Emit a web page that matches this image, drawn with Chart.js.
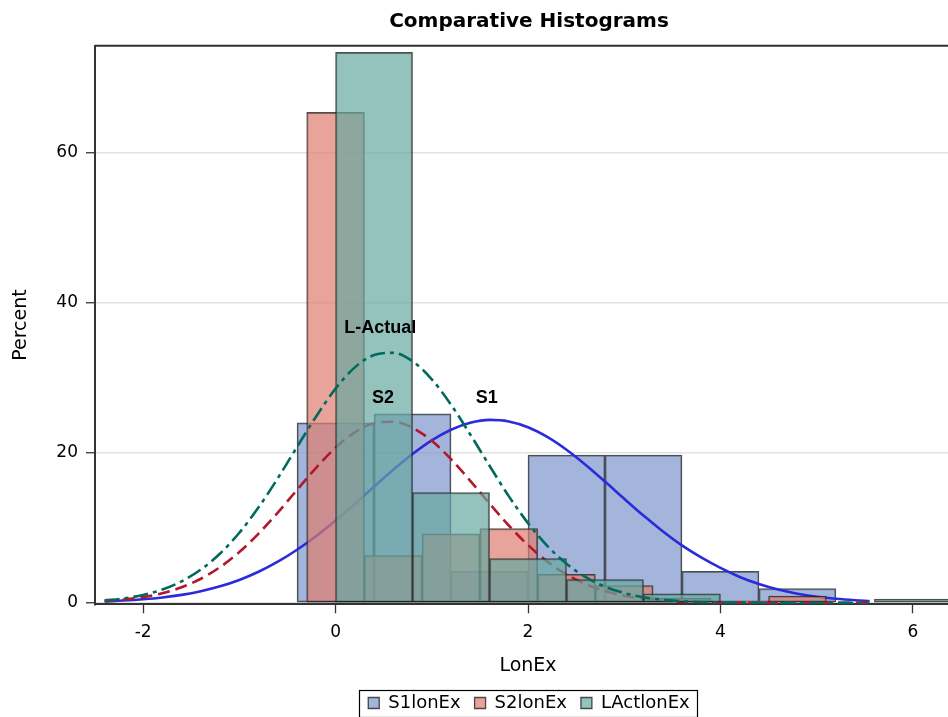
<!DOCTYPE html>
<html>
<head>
<meta charset="utf-8">
<title>Comparative Histograms</title>
<script src="https://cdn.jsdelivr.net/npm/chart.js@4/dist/chart.umd.min.js"></script>
<style>
  html, body { margin: 0; padding: 0; overflow: hidden; background: #ffffff; }
  #wrap { position: relative; width: 1058px; height: 722px; }
</style>
</head>
<body>
<div id="wrap"><canvas id="chart"></canvas></div>
<script>
// ---- Histogram bins: bin centres, bin width and percent of observations ----
const s1Centers = [0, 0.8, 1.6, 2.4, 3.2, 4.0, 4.8];
const s1Percent = [24.0, 25.2, 4.2, 19.7, 19.7, 4.2, 1.9];
const s1BinWidth = 0.8;

const s2Centers = [0, 0.6, 1.2, 1.8, 2.4, 3.0, 3.6, 4.2, 4.8];
const s2Percent = [65.4, 6.3, 9.2, 9.9, 3.8, 2.3, 0.6, 0.2, 0.9];
const s2BinWidth = 0.6;

const laCenters = [0.4, 1.2, 2.0, 2.8, 3.6, 6.0];
const laPercent = [73.4, 14.7, 5.9, 3.1, 1.2, 0.5];
const laBinWidth = 0.8;

// ---- Fitted normal density curves (percent scale) ----
const fitX = [-2.4, -2.2, -2.0, -1.8, -1.6, -1.4, -1.2, -1.0, -0.8, -0.6,
              -0.4, -0.2, 0.0, 0.2, 0.4, 0.6, 0.8, 1.0, 1.2, 1.4,
              1.6, 1.8, 2.0, 2.2, 2.4, 2.6, 2.8, 3.0, 3.2, 3.4,
              3.6, 3.8, 4.0, 4.2, 4.4, 4.6, 4.8, 5.0, 5.2, 5.4, 5.55];
const s1Fit = [0.19, 0.30, 0.47, 0.71, 1.06, 1.55, 2.20, 3.05, 4.14, 5.48,
               7.08, 8.92, 10.98, 13.19, 15.49, 17.74, 19.84, 21.66, 23.08, 24.01,
               24.39, 24.19, 23.42, 22.13, 20.42, 18.39, 16.17, 13.88, 11.63, 9.55,
               7.65, 6.05, 4.65, 3.45, 2.50, 1.76, 1.21, 0.81, 0.53, 0.34, 0.24];
const s2Fit = [0.23, 0.43, 0.76, 1.28, 2.07, 3.21, 4.76, 6.77, 9.23, 12.04,
               15.06, 18.04, 20.69, 22.74, 23.95, 24.15, 23.34, 21.60, 19.15, 16.27,
               13.24, 10.31, 7.70, 5.51, 3.78, 2.48, 1.56, 0.94, 0.54, 0.30,
               0.16, 0.08, 0.04, 0.02, 0.01, 0.01, 0, 0, 0, 0, 0];
const laFit = [0.32, 0.59, 1.05, 1.77, 2.86, 4.43, 6.57, 9.34, 12.74, 16.62,
               20.79, 24.89, 28.56, 31.40, 33.05, 33.34, 32.21, 29.81, 26.43, 22.45,
               18.28, 14.23, 10.63, 7.60, 5.21, 3.42, 2.15, 1.30, 0.75, 0.41,
               0.22, 0.11, 0.05, 0.03, 0.01, 0.01, 0, 0, 0, 0, 0];

// ---- Names and tick values ----
const seriesNames = ['S1lonEx', 'S2lonEx', 'LActlonEx'];
const curveNames = ['S1', 'S2', 'L-Actual'];
const xTickValues = [-2, 0, 2, 4, 6];
const yTickValues = [0, 20, 40, 60];

// Where each curve name sits, in data units (x, percent)
const curveLabelAt = [[1.572, 26.6], [0.494, 26.6], [0.465, 36.0]];

// ---- Styling ----
const FONT = "'DejaVu Sans', sans-serif";
const LABEL_FONT = "bold 18px 'Liberation Sans', Arial, sans-serif";
const X_MIN = -2.5, X_MAX = 6.5;
const OUTLINE = 'rgba(35,35,35,0.8)';

const toPoints = (xs, ys) => xs.map((x, i) => ({ x: x, y: ys[i] }));
const useTicks = values => scale => { scale.ticks = values.map(v => ({ value: v })); };

const barSet = (label, xs, ys, binWidth, fill, order) => ({
  type: 'bar', label, data: toPoints(xs, ys), xAxisID: 'x', yAxisID: 'y',
  binWidth: binWidth, grouped: false,
  backgroundColor: fill, borderColor: OUTLINE, borderWidth: 1.3, borderSkipped: false,
  categoryPercentage: 1, barPercentage: 1, order
});
const curveSet = (label, ys, color, dash, order) => ({
  type: 'line', label, data: toPoints(fitX, ys), xAxisID: 'x', yAxisID: 'y',
  borderColor: color, borderWidth: 2.6, borderDash: dash, borderCapStyle: 'butt',
  pointRadius: 0, fill: false, cubicInterpolationMode: 'monotone', order
});

// Bars span their whole bin: width taken from the x scale once it is laid out
const binWidthPlugin = {
  id: 'binWidths',
  afterLayout(chart) {
    const x = chart.scales.x;
    const unit = x.getPixelForValue(1) - x.getPixelForValue(0);
    chart.data.datasets.forEach(ds => {
      if (ds.binWidth) ds.barThickness = ds.binWidth * unit;
    });
  }
};

// Plot frame (top and right edges) and the box around the legend
const framePlugin = {
  id: 'frame',
  afterDraw(chart) {
    const { ctx, chartArea: a, legend } = chart;
    ctx.save();
    ctx.strokeStyle = '#333';
    ctx.lineWidth = 2;
    ctx.beginPath();
    ctx.moveTo(a.left, a.top);
    ctx.lineTo(a.right, a.top);
    ctx.lineTo(a.right, a.bottom);
    ctx.stroke();
    if (legend && legend.legendHitBoxes && legend.legendHitBoxes.length) {
      const hb = legend.legendHitBoxes;
      const l = Math.min(...hb.map(h => h.left)) - 9;
      const r = Math.max(...hb.map(h => h.left + h.width)) + 8;
      const t = Math.min(...hb.map(h => h.top)) - 4.5;
      const b = Math.max(...hb.map(h => h.top + h.height)) + 4.5;
      ctx.strokeStyle = '#000';
      ctx.lineWidth = 1.2;
      ctx.strokeRect(Math.round(l) + 0.5, Math.round(t) + 0.5, Math.round(r - l), Math.round(b - t));
    }
    ctx.restore();
  }
};

// Names written beside the fitted curves
const curveLabelPlugin = {
  id: 'curveLabels',
  afterDatasetsDraw(chart) {
    const { ctx, scales } = chart;
    ctx.save();
    ctx.font = LABEL_FONT;
    ctx.fillStyle = '#000';
    ctx.textAlign = 'center';
    ctx.textBaseline = 'alphabetic';
    curveNames.forEach((name, i) => {
      const [vx, vy] = curveLabelAt[i];
      ctx.fillText(name, scales.x.getPixelForValue(vx), scales.y.getPixelForValue(vy));
    });
    ctx.restore();
  }
};

const chart = new Chart(document.getElementById('chart'), {
  data: {
    datasets: [
      barSet(seriesNames[0], s1Centers, s1Percent, s1BinWidth, 'rgba(124,149,202,0.7)', 5),
      barSet(seriesNames[1], s2Centers, s2Percent, s2BinWidth, 'rgba(222,126,111,0.7)', 3),
      barSet(seriesNames[2], laCenters, laPercent, laBinWidth, 'rgba(102,168,161,0.7)', 1),
      curveSet(curveNames[0], s1Fit, '#2b2bdc', [], 4),
      curveSet(curveNames[1], s2Fit, '#b3172c', [12, 6], 2),
      curveSet(curveNames[2], laFit, '#006b5d', [15, 5, 4, 5], 0)
    ]
  },
  options: {
    responsive: true,
    maintainAspectRatio: false,
    animation: false,
    devicePixelRatio: 1,
    layout: { padding: 0 },
    scales: {
      x: {
        type: 'linear', position: 'bottom', min: X_MIN, max: X_MAX, offset: false,
        afterBuildTicks: useTicks(xTickValues),
        afterFit: s => { s.height = 75.7; },
        grid: { offset: false, drawOnChartArea: false, drawTicks: true, tickLength: 9, tickColor: '#333', tickWidth: 1.3 },
        border: { display: true, color: '#333', width: 2 },
        ticks: { font: { family: FONT, size: 17 }, color: '#000', padding: 9.5, maxRotation: 0 },
        title: { display: true, text: 'LonEx', font: { family: FONT, size: 19 }, color: '#000',
                 padding: { top: 0, bottom: 2.6 } }
      },
      y: {
        type: 'linear', position: 'left', min: -0.2, max: 74.3,
        afterBuildTicks: useTicks(yTickValues),
        afterFit: s => { s.width = 95; },
        grid: { color: '#e2e2e2', lineWidth: 1.5, tickLength: 9, tickColor: '#333', tickWidth: 1.3 },
        border: { display: true, color: '#333', width: 2 },
        ticks: { font: { family: FONT, size: 17 }, color: '#000', padding: 8 },
        title: { display: true, text: 'Percent', font: { family: FONT, size: 19 }, color: '#000',
                 padding: { top: 9.6, bottom: 0 } }
      },
      // empty right-hand margin of the graph
      yRight: {
        type: 'linear', position: 'right', min: 0, max: 1,
        afterFit: s => { s.width = 97; },
        grid: { display: false }, border: { display: false }, ticks: { display: false }
      }
    },
    plugins: {
      title: {
        display: true, text: 'Comparative Histograms', color: '#000',
        font: { family: FONT, size: 20, weight: 'bold' },
        padding: { top: 9.3, bottom: 12.4 }
      },
      legend: {
        position: 'bottom',
        labels: {
          boxWidth: 11, boxHeight: 11, padding: 14, color: '#000',
          font: { family: FONT, size: 18 },
          filter: item => item.datasetIndex < 3,
          sort: (a, b) => a.datasetIndex - b.datasetIndex
        }
      },
      tooltip: { enabled: false }
    }
  },
  plugins: [binWidthPlugin, framePlugin, curveLabelPlugin]
});
chart.update();
</script>
</body>
</html>
